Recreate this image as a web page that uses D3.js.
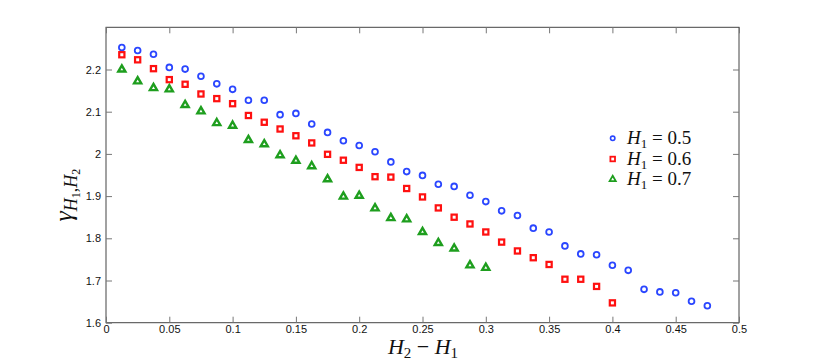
<!DOCTYPE html>
<html><head><meta charset="utf-8">
<script src="https://cdn.jsdelivr.net/npm/d3@7"></script>
<style>body{margin:0;background:#fff}svg{display:block}</style>
</head><body>
<script>
const xStep = 0.0125;
const blueY = [2.252,2.245,2.236,2.205,2.201,2.184,2.166,2.153,2.127,2.127,2.093,2.096,2.071,2.051,2.031,2.020,2.005,1.981,1.958,1.949,1.928,1.923,1.902,1.887,1.865,1.854,1.824,1.815,1.782,1.763,1.761,1.736,1.724,1.679,1.673,1.671,1.651,1.640];
const redY = [2.235,2.223,2.202,2.176,2.165,2.142,2.131,2.119,2.091,2.075,2.059,2.043,2.026,1.999,1.985,1.968,1.946,1.945,1.918,1.898,1.872,1.850,1.834,1.815,1.791,1.770,1.754,1.738,1.703,1.703,1.686,1.647];
const greenY = [2.200,2.172,2.156,2.153,2.116,2.101,2.073,2.067,2.033,2.023,1.997,1.984,1.971,1.940,1.899,1.901,1.871,1.848,1.845,1.815,1.789,1.776,1.736,1.730];
const xTicks = [0,0.05,0.1,0.15,0.2,0.25,0.3,0.35,0.4,0.45,0.5];
const xTickLabels = ["0","0.05","0.1","0.15","0.2","0.25","0.3","0.35","0.4","0.45","0.5"];
const yTicks = [1.6,1.7,1.8,1.9,2,2.1,2.2];
const yTickLabels = ["1.6","1.7","1.8","1.9","2","2.1","2.2"];
const legendLabels = ["0.5","0.6","0.7"];

const W = 817, H = 363;
const svg = d3.select("body").append("svg").attr("width", W).attr("height", H);
const L = 106, R = 739, T = 27.3, B = 322.7;
const x = d3.scaleLinear().domain([0, 0.5]).range([L, R]);
const y = d3.scaleLinear().domain([1.6, 2.3]).range([B, T]);

const axisColor = "#444";
const g = svg.append("g");
g.append("rect").attr("x", L).attr("y", T).attr("width", R - L).attr("height", B - T)
  .attr("fill", "none").attr("stroke", axisColor).attr("stroke-width", 1);

const fontTick = "'Liberation Sans', Arial, sans-serif";
const xb = svg.append("g").attr("transform", `translate(0,${B})`)
  .call(d3.axisBottom(x).tickValues(xTicks).tickFormat((d,i)=>xTickLabels[i]).tickSizeInner(-6).tickSizeOuter(0).tickPadding(4));
const xt = svg.append("g").attr("transform", `translate(0,${T})`)
  .call(d3.axisTop(x).tickValues(xTicks).tickFormat("").tickSizeInner(-6).tickSizeOuter(0));
const yl = svg.append("g").attr("transform", `translate(${L},0)`)
  .call(d3.axisLeft(y).tickValues(yTicks).tickFormat((d,i)=>yTickLabels[i]).tickSizeInner(-6).tickSizeOuter(0).tickPadding(4));
const yr = svg.append("g").attr("transform", `translate(${R},0)`)
  .call(d3.axisRight(y).tickValues(yTicks).tickFormat("").tickSizeInner(-6).tickSizeOuter(0));
[xb, xt, yl, yr].forEach(a => {
  a.select(".domain").remove();
  a.selectAll(".tick line").attr("stroke", "#777").attr("stroke-width", 1);
  a.selectAll("text").attr("font-family", fontTick).attr("font-size", 11).attr("fill", "#111");
});
xb.selectAll("text").attr("dy", "0.6em");
yl.selectAll("text").attr("dx", "-1");

const blue = "#2a46ff", red = "#ff1010", green = "#1e9e1e";
const plot = svg.append("g");
function pts(arr) { return arr.map((v, i) => ({x: (i + 1) * xStep, y: v})); }

plot.selectAll(".b").data(pts(blueY)).enter().append("circle")
  .attr("cx", d => x(d.x)).attr("cy", d => y(d.y)).attr("r", 2.9)
  .attr("fill", "none").attr("stroke", blue).attr("stroke-width", 1.8);
plot.selectAll(".r").data(pts(redY)).enter().append("rect")
  .attr("x", d => x(d.x) - 2.6).attr("y", d => y(d.y) - 2.6).attr("width", 5.2).attr("height", 5.2)
  .attr("fill", "#fff").attr("stroke", red).attr("stroke-width", 2.2);
const tri = d3.symbol().type(d3.symbolTriangle).size(22);
plot.selectAll(".g").data(pts(greenY)).enter().append("path")
  .attr("d", tri).attr("transform", d => `translate(${x(d.x)},${y(d.y)})`)
  .attr("fill", "#fff").attr("stroke", green).attr("stroke-width", 2.4);

// legend
const serif = "'Liberation Serif','DejaVu Serif', serif";
const lgX = 612.7, lgY = [138.3, 159, 179.3];
const lg = svg.append("g");
lg.append("circle").attr("cx", lgX).attr("cy", lgY[0]).attr("r", 2.2).attr("fill", "none").attr("stroke", blue).attr("stroke-width", 1.6);
lg.append("rect").attr("x", lgX - 2.3).attr("y", lgY[1] - 2.3).attr("width", 4.6).attr("height", 4.6).attr("fill", "#fff").attr("stroke", red).attr("stroke-width", 1.8);
lg.append("path").attr("d", d3.symbol().type(d3.symbolTriangle).size(16)).attr("transform", `translate(${lgX},${lgY[2]})`).attr("fill", "#fff").attr("stroke", green).attr("stroke-width", 1.8);
legendLabels.forEach((lab, i) => {
  const t = lg.append("text").attr("x", 627).attr("y", lgY[i] + 6).attr("font-family", serif).attr("font-size", 19).attr("fill", "#111");
  t.append("tspan").attr("font-style", "italic").text("H");
  t.append("tspan").attr("font-size", 13).attr("dy", 4).text("1");
  t.append("tspan").attr("dy", -4).text(" = " + lab);
});

// axis labels
const xlab = svg.append("text").attr("x", 423).attr("y", 354).attr("text-anchor", "middle")
  .attr("font-family", serif).attr("font-size", 22).attr("fill", "#111");
xlab.append("tspan").attr("font-style", "italic").text("H");
xlab.append("tspan").attr("font-size", 15).attr("dy", 4).text("2");
xlab.append("tspan").attr("dy", -4).text(" \u2212 ");
xlab.append("tspan").attr("font-style", "italic").text("H");
xlab.append("tspan").attr("font-size", 15).attr("dy", 4).text("1");

const ylab = svg.append("text").attr("transform", "translate(72,195) rotate(-90)").attr("text-anchor", "middle")
  .attr("font-family", serif).attr("font-size", 26).attr("fill", "#111");
ylab.append("tspan").attr("font-style", "italic").text("\u03B3");
ylab.append("tspan").attr("font-size", 18).attr("dy", 5).attr("font-style", "italic").text("H");
ylab.append("tspan").attr("font-size", 12).attr("dy", 3).text("1");
ylab.append("tspan").attr("font-size", 18).attr("dy", -3).text(",");
ylab.append("tspan").attr("font-size", 18).attr("font-style", "italic").text("H");
ylab.append("tspan").attr("font-size", 12).attr("dy", 3).text("2");
</script>
</body></html>
